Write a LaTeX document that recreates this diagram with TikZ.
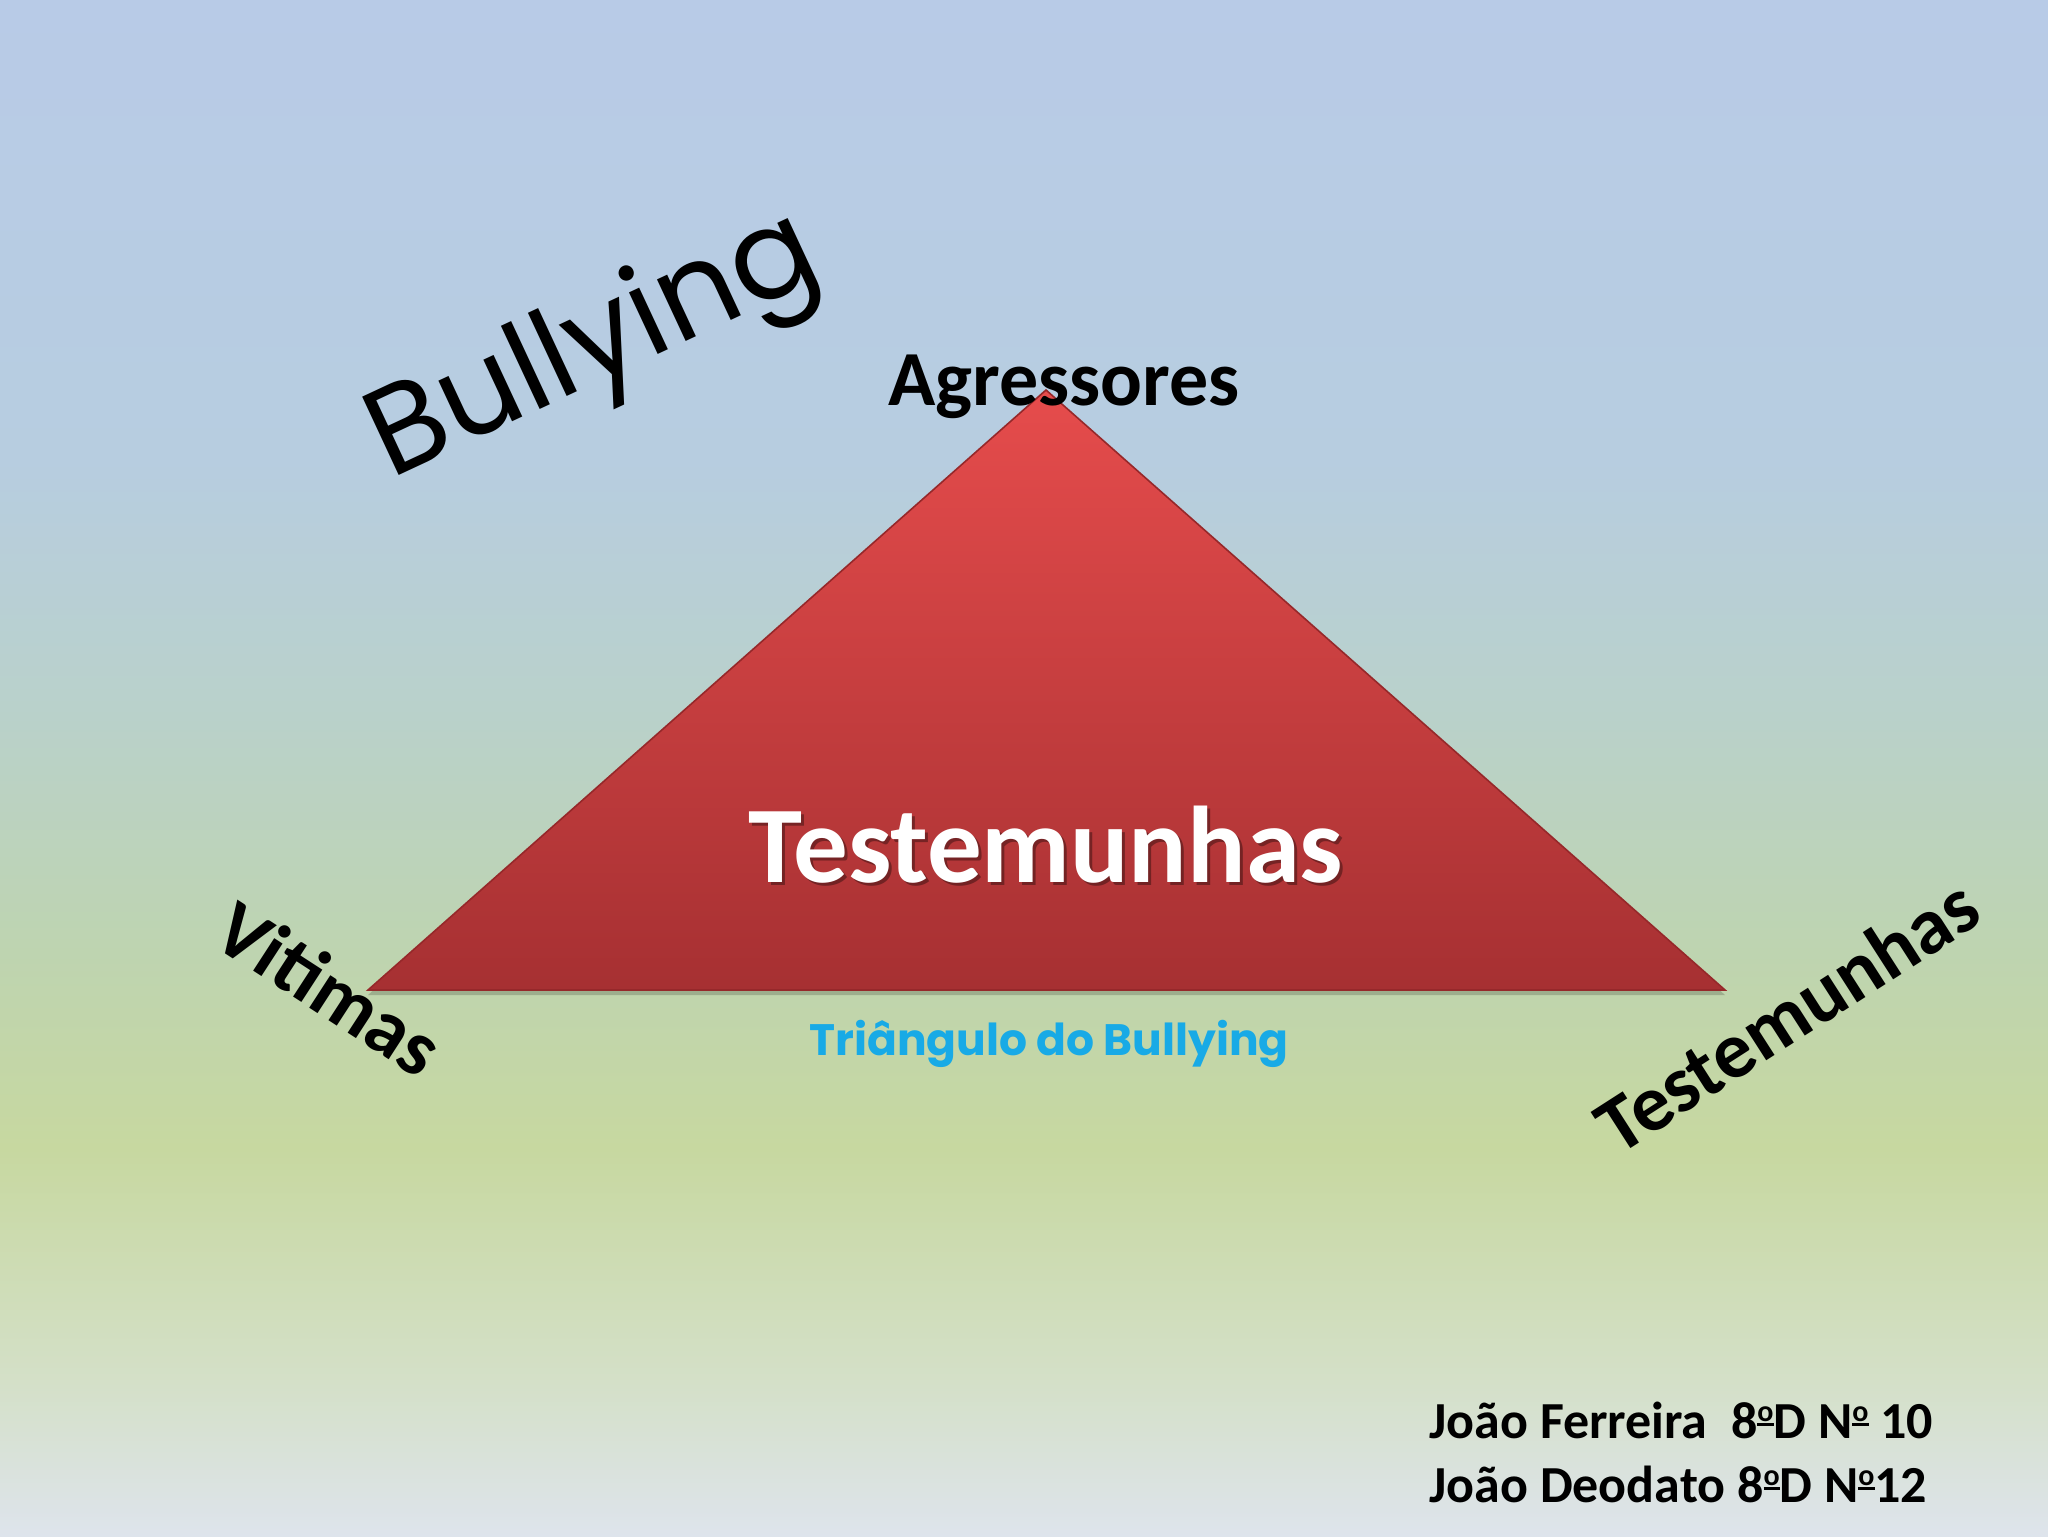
\documentclass[tikz,border=0pt]{standalone}
\usepackage{fontspec}
\setmainfont{Carlito}
\newfontfamily\comicf{Poppins}
\definecolor{bgA}{RGB}{222,228,236}
\definecolor{bgB}{RGB}{212,224,200}
\definecolor{bgC}{RGB}{199,216,160}
\definecolor{bgD}{RGB}{190,212,176}
\definecolor{bgE}{RGB}{185,209,203}
\definecolor{bgF}{RGB}{183,205,224}
\definecolor{bgG}{RGB}{184,203,231}
\definecolor{triTop}{RGB}{230,76,76}
\definecolor{triBot}{RGB}{166,48,50}
\definecolor{triEdge}{RGB}{150,40,42}
\definecolor{cyanText}{RGB}{24,170,230}
\pgfdeclareverticalshading{bgshade}{100bp}{color(0bp)=(bgA); color(25bp)=(bgA); color(30bp)=(bgB); color(37.6bp)=(bgC); color(44bp)=(bgD); color(52bp)=(bgE); color(60bp)=(bgF); color(75bp)=(bgG); color(100bp)=(bgG)}
\newcommand{\mordm}{\raisebox{8.5pt}{\fontsize{15}{15}\selectfont\bfseries\setbox0\hbox{o}\rlap{\rule[-2.6pt]{\wd0}{1.4pt}}\box0}}
\tikzset{
  lbl/.style={inner sep=0pt, font=\bfseries\fontsize{40}{48}\selectfont, text=black},
  credit/.style={inner sep=0pt, anchor=base west, font=\bfseries\fontsize{26}{31}\selectfont, text=black}
}
\begin{document}
\begin{tikzpicture}[x=0.5pt,y=-0.5pt]
\useasboundingbox (0,0) rectangle (2048,1536);
\shade[shading=bgshade] (0,0) rectangle (2048,1536);
% triangle
\coordinate (apex) at (1046,390);
\coordinate (bl) at (368,990);
\coordinate (br) at (1725,990);
\fill[black,opacity=0.18] ([yshift=-2.5pt]apex) -- ([yshift=-2.5pt]br) -- ([yshift=-2.5pt]bl) -- cycle;
\path[draw=triEdge, line width=0.8pt, top color=triTop, bottom color=triBot] (apex) -- (br) -- (bl) -- cycle;
% labels
\node[lbl, anchor=base, font=\bfseries\fontsize{39}{46}\selectfont] (agr) at (1064,405) {Agressores};
\node[inner sep=0pt, anchor=base, text=black, opacity=0.35, font=\bfseries\fontsize{54.5}{64}\selectfont] (testshadow) at (1049,885) {Testemunhas};
\node[inner sep=0pt, anchor=base, text=white, font=\bfseries\fontsize{54.5}{64}\selectfont] (testc) at (1046,882) {Testemunhas};
\node[lbl, rotate=-33] (vit) at (330,988) {Vitimas};
\node[lbl, rotate=32.7] (testr) at (1787,1015) {Testemunhas};
\node[inner sep=0pt, rotate=25, font=\comicf\fontsize{62}{70}\selectfont, text=black] (bul) at (595,350) {Bullying};
\node[inner sep=0pt, anchor=base, font=\comicf\bfseries\fontsize{22}{26}\selectfont, text=cyanText] (tri) at (1049,1055) {Triângulo do Bullying};
\node[credit] (c1) at (1429,1438) {João Ferreira\ \ 8\mordm D N\mordm\ 10};
\node[credit] (c2) at (1429,1502) {João Deodato 8\mordm D N\mordm 12};
\end{tikzpicture}
\end{document}
